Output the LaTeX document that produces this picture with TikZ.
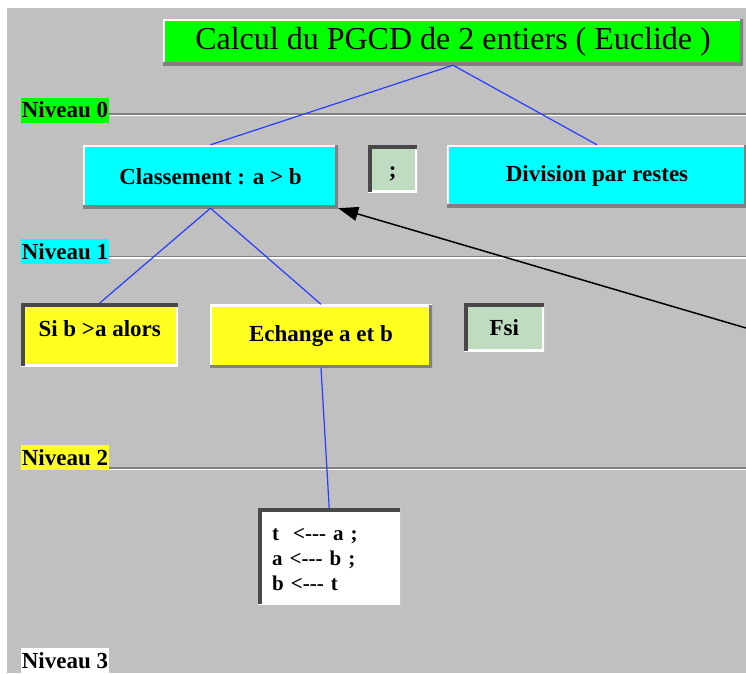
\documentclass[tikz,border=0pt]{standalone}
\usepackage{xcolor}
\usepackage{fontspec}
\setmainfont{Liberation Serif}
\usepackage{tikz}
\usetikzlibrary{positioning,arrows.meta}

\definecolor{fond}{RGB}{192,192,192}
\definecolor{vert}{RGB}{0,255,0}
\definecolor{turquoise}{RGB}{0,255,255}
\definecolor{jaune}{RGB}{255,255,32}
\definecolor{vertpale}{RGB}{192,220,192}
\definecolor{ombre}{RGB}{128,128,128}
\definecolor{sombre}{RGB}{72,72,72}
\definecolor{trait}{RGB}{40,60,255}

\tikzset{
  boite/.style={rectangle, inner sep=0pt, font=\fontsize{23}{25}\selectfont\bfseries},
  relief/.style={fill=#1, path picture={
    \draw[white, line width=4pt] (path picture bounding box.south west) -- (path picture bounding box.north west) -- (path picture bounding box.north east);
    \draw[ombre, line width=6pt] (path picture bounding box.south west) -- (path picture bounding box.south east) -- (path picture bounding box.north east);
  }},
  creux/.style={fill=#1, path picture={
    \draw[white, line width=4pt] (path picture bounding box.south west) -- (path picture bounding box.south east) -- (path picture bounding box.north east);
    \draw[sombre, line width=8pt] (path picture bounding box.south west) -- (path picture bounding box.north west) -- (path picture bounding box.north east);
  }},
  niveau/.style={rectangle, inner sep=0pt, minimum width=88pt, minimum height=25pt, font=\fontsize{23}{25}\selectfont\bfseries},
  lien/.style={trait, line width=1.2pt}
}

\begin{document}
\begin{tikzpicture}[x=1pt,y=-1pt]
\useasboundingbox (0,0) rectangle (746,673);
\fill[fond] (7,8) rectangle (746,673);

\foreach \n/\y/\c in {0/110/vert,1/251.5/turquoise,2/457.5/jaune,3/660.5/white}
{
    \node[niveau, fill=\c] (niv\n) at (65,\y) {Niveau \n};
}
\foreach \n/\y in {0/114,1/256.5,2/468}
{
    \draw[ombre, line width=1.5pt] (niv\n.east |- 0,\y) -- (746,\y);
    \draw[white, line width=1.5pt] (niv\n.east |- 0,\y+1.5) -- (746,\y+1.5);
}

\node[relief=vert, rectangle, inner sep=0pt, minimum width=580pt, minimum height=46pt, font=\fontsize{32}{34}\selectfont] (titre) at (453,42) {Calcul du PGCD de 2 entiers ( Euclide )};

\node[relief=turquoise, boite, minimum width=255pt, minimum height=63pt] (classement) at (210.5,176.5) {Classement : a > b};
\node[creux=vertpale, boite, anchor=north west, minimum width=49pt, text height=32pt, text depth=15pt] (pointvirgule) at (368,145) {;};
\node[relief=turquoise, boite, minimum width=300pt, minimum height=62pt] (division) at (597,176) {Division par restes};

\node[creux=jaune, boite, anchor=north west, minimum width=157pt, text height=33pt, text depth=30pt] (si) at (21,303) {Si b >a alors};
\node[relief=jaune, boite, minimum width=222pt, minimum height=63pt] (echange) at (321,336) {Echange a et b};
\node[creux=vertpale, boite, anchor=north west, minimum width=80pt, text height=32pt, text depth=16pt] (fsi) at (464,303) {Fsi};

\node[creux=white, boite, anchor=north west, text width=114pt, inner xsep=14pt, text height=32pt, text depth=64pt, align=left, font=\fontsize{21}{25}\selectfont\bfseries] (affect) at (258,508) {t \ <-{}-{}- a ;\\ a <-{}-{}- b ;\\ b <-{}-{}- t};

\draw[lien] (titre.south) -- (classement.north);
\draw[lien] (titre.south) -- (division.north);
\draw[lien] (classement.south) -- (si.north);
\draw[lien] (classement.south) -- (echange.north);
\draw[lien] (echange.south) -- (affect.north);

\coordinate (fleche) at (746,328);
\draw[-{Triangle[length=20pt,width=14pt]}, line width=1.5pt] (fleche) -- (classement.south east);

\end{tikzpicture}
\end{document}
